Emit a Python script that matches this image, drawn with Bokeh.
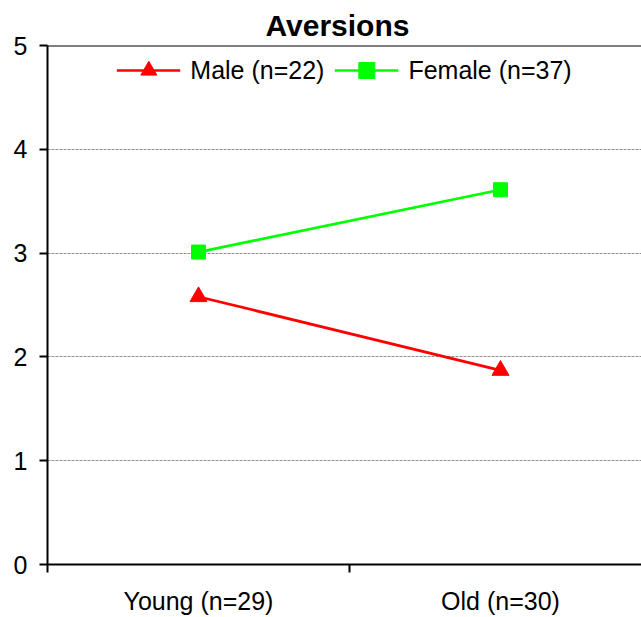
from bokeh.plotting import figure
from bokeh.models import Range1d, FixedTicker, Span
from bokeh.embed import file_html
from bokeh.resources import INLINE

# ---- data ----
groups = ["Young (n=29)", "Old (n=30)"]
male_label = "Male (n=22)"
female_label = "Female (n=37)"
male = [2.58, 1.87]
female = [3.01, 3.61]
y_ticks = [0, 1, 2, 3, 4, 5]

FONT = "Liberation Sans"
xs = [i + 0.5 for i in range(len(groups))]
bounds = list(range(len(groups) + 1))

p = figure(width=641, height=617, output_backend="svg", toolbar_location=None,
           x_range=Range1d(0, 1.967), y_range=Range1d(y_ticks[0], y_ticks[-1]),
           min_border_left=47, min_border_right=0, min_border_top=45,
           min_border_bottom=51, title="Aversions")
p.outline_line_color = None
p.background_fill_color = "white"
p.border_fill_color = "white"

p.title.text_font = FONT
p.title.text_font_size = "30px"
p.title.text_font_style = "bold"
p.title.align = "left"
p.title.offset = 218
p.title.standoff = 8
p.title.text_color = "black"

# grid
p.xgrid.grid_line_color = None
p.ygrid.grid_line_color = "#909090"
p.ygrid.grid_line_dash = "3 1"
p.ygrid.grid_line_width = 1

# top border
p.add_layout(Span(location=y_ticks[-1], dimension="width", line_color="black", line_width=2))

# x axis
xa = p.xaxis[0]
xa.ticker = FixedTicker(ticks=xs, minor_ticks=bounds)
xa.major_label_overrides = {x: g for x, g in zip(xs, groups)}
xa.major_tick_line_color = None
xa.major_tick_out = 0
xa.major_tick_in = 0
xa.minor_tick_line_color = "black"
xa.minor_tick_line_width = 2
xa.minor_tick_out = 8
xa.minor_tick_in = 0
xa.axis_line_width = 2
xa.axis_line_color = "black"
xa.major_label_standoff = 14
xa.major_label_text_font = FONT
xa.major_label_text_font_size = "25px"
xa.major_label_text_color = "black"

# y axis
ya = p.yaxis[0]
ya.ticker = FixedTicker(ticks=y_ticks)
ya.major_tick_out = 8
ya.major_tick_in = 0
ya.major_tick_line_width = 2
ya.major_tick_line_color = "black"
ya.minor_tick_line_color = None
ya.axis_line_width = 2
ya.axis_line_color = "black"
ya.major_label_standoff = 12
ya.major_label_text_font = FONT
ya.major_label_text_font_size = "25px"
ya.major_label_text_color = "black"

# series
p.line(xs, male, line_color="#FF0000", line_width=2.7, legend_label=male_label)
p.scatter(xs, male, marker="triangle", size=17, fill_color="#FF0000",
          line_color="#FF0000", legend_label=male_label)
p.line(xs, female, line_color="#00FF00", line_width=2.7, legend_label=female_label)
p.scatter(xs, female, marker="square", size=14, fill_color="#00FF00",
          line_color="#00FF00", legend_label=female_label)

lg = p.legend[0]
lg.location = "top_center"
lg.orientation = "horizontal"
lg.border_line_color = None
lg.background_fill_alpha = 0
lg.glyph_width = 64
lg.glyph_height = 40
lg.label_standoff = 10
lg.spacing = 10
lg.padding = 8
lg.margin = 5
lg.label_text_font = FONT
lg.label_text_font_size = "25px"
lg.label_text_color = "black"

open("out.html", "w").write(file_html(p, INLINE))
